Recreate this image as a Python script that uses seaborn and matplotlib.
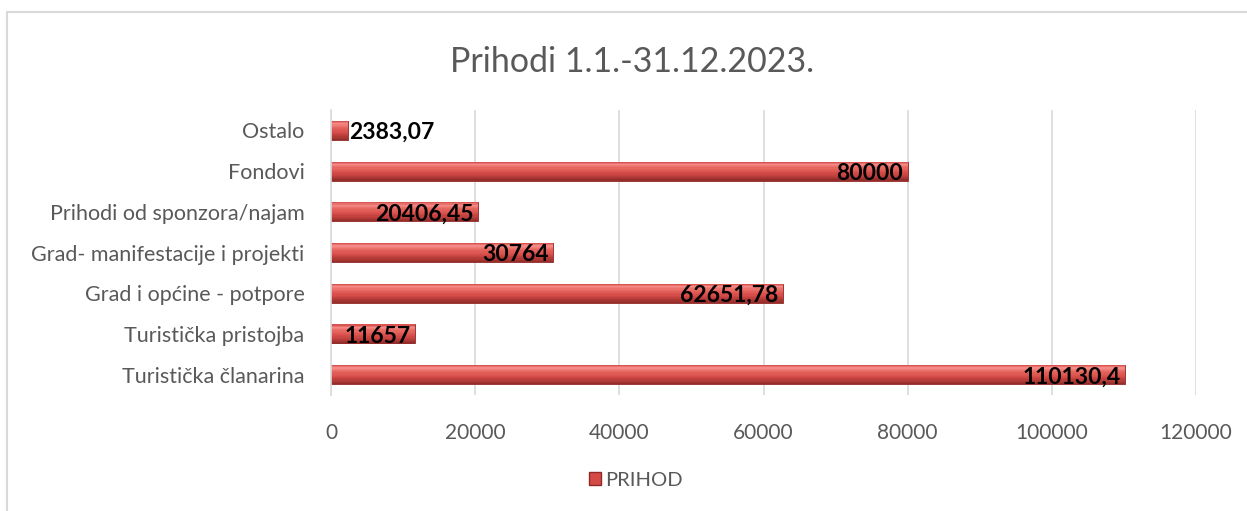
import matplotlib
matplotlib.use("Agg")
import matplotlib.pyplot as plt
import seaborn as sns
import pandas as pd
import numpy as np
from matplotlib.lines import Line2D
from matplotlib.patches import Patch
from matplotlib.colors import to_rgb

categories = ["Ostalo", "Fondovi", "Prihodi od sponzora/najam",
              "Grad- manifestacije i projekti", "Grad i općine - potpore",
              "Turistička pristojba", "Turistička članarina"]
values = [2383.07, 80000, 20406.45, 30764, 62651.78, 11657, 110130.4]
value_labels = ["2383,07", "80000", "20406,45", "30764", "62651,78", "11657", "110130,4"]
x_ticks = [0, 20000, 40000, 60000, 80000, 100000, 120000]
series_name = "PRIHOD"
title = "Prihodi 1.1.-31.12.2023."

sns.set_theme(style="white")
plt.rcParams['font.family'] = ['Lato', 'DejaVu Sans']

df = pd.DataFrame({"cat": categories, "val": values})

fig = plt.figure(figsize=(12.47, 5.11), dpi=100)
ax = fig.add_axes([331/1247, 1-395/511, (1196-331)/1247, (395-110)/511])

bar_color = "#D44A47"
sns.barplot(data=df, y="cat", x="val", orient="h", color=bar_color,
            width=0.47, ax=ax, saturation=1, edgecolor="#8E2A28", linewidth=0.6)

# bevel-like vertical gradient on each bar (y axis inverted: small y = top)
stops = [(0.0, "#D04643"), (0.15, "#F48A86"), (0.35, "#E6665F"),
         (0.6, "#D64C48"), (0.85, "#AE3835"), (1.0, "#8E2A28")]
n = 16
pos = np.array([s[0] for s in stops])
cols = np.array([to_rgb(s[1]) for s in stops])
for p in list(ax.patches):
    x0, y0 = p.get_x(), p.get_y()
    w, h = p.get_width(), p.get_height()
    for k in range(n):
        t = (k + 0.5) / n
        c = [np.interp(t, pos, cols[:, j]) for j in range(3)]
        ax.add_patch(plt.Rectangle((x0, y0 + h * k / n), w, h / n + 1e-3,
                                   color=c, lw=0, zorder=p.get_zorder() + 0.1))

ax.set_xlim(0, 120000)
ax.set_ylim(6.5, -0.5)
ax.set_xticks(x_ticks)
ax.set_xticklabels([str(t) for t in x_ticks])
ax.grid(axis="x", color="#D9D9D9", linewidth=1.2)
ax.set_axisbelow(True)
for s in ["top", "right", "bottom"]:
    ax.spines[s].set_visible(False)
ax.spines["left"].set_color("#D9D9D9")
ax.spines["left"].set_linewidth(1.2)
ax.set_xlabel("")
ax.set_ylabel("")
ax.tick_params(axis="x", labelsize=15, colors="#595959", length=0, pad=20)
ax.tick_params(axis="y", labelsize=15.5, colors="#595959", length=0, pad=19)

for i, (v, lab) in enumerate(zip(values, value_labels)):
    if v < 8000:
        ax.text(v + 200, i + 0.04, lab, ha="left", va="center", fontsize=16.5,
                fontweight="bold", color="black", zorder=5)
    else:
        ax.text(v - 600, i + 0.06, lab, ha="right", va="center", fontsize=16.5,
                fontweight="bold", color="black", zorder=5)

fig.text(632/1247, 1-62/511, title, ha="center", va="center",
         fontsize=24.5, color="#595959")

handle = Patch(facecolor=bar_color, edgecolor="#8E2A28")
fig.legend([handle], [series_name], loc="center", bbox_to_anchor=(636/1247, 1-480/511),
           frameon=False, fontsize=14.5, labelcolor="#595959",
           handlelength=0.6, handleheight=0.6, handletextpad=0.2)

# chart border
fig.add_artist(Line2D([7/1247, 1.0], [1-12/511, 1-12/511], color="#D9D9D9", lw=1.5,
                      transform=fig.transFigure))
fig.add_artist(Line2D([7/1247, 7/1247], [0, 1-12/511], color="#D9D9D9", lw=1.5,
                      transform=fig.transFigure))

fig.savefig("out.png", dpi=100)
